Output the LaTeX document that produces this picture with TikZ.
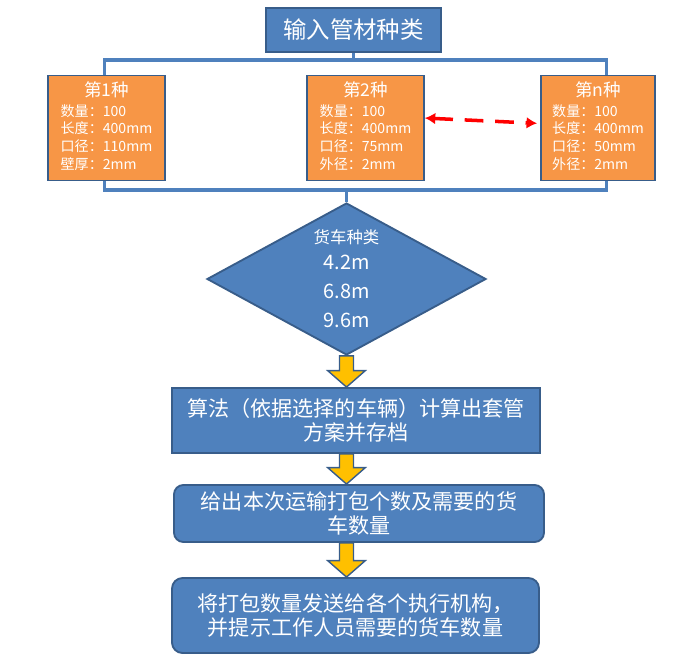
\documentclass[tikz,border=0pt]{standalone}
\usepackage{fontspec}
\setmainfont{Noto Sans CJK SC}
\usepackage{xcolor}
\usepackage{tikz}
\usetikzlibrary{arrows.meta, positioning, shapes, calc}

\definecolor{boxblue}{HTML}{4F81BD}
\definecolor{edgeblue}{HTML}{385D8A}
\definecolor{boxorange}{HTML}{F79646}
\definecolor{arrowyellow}{HTML}{FFC000}

% yellow block arrow between two points on one vertical line
\newcommand{\flowarrow}[2]{%
  \draw[flow] let \p1=(#1), \p2=(#2) in
    (\x1-6pt,\y1) -- (\x1+6pt,\y1) -- (\x1+6pt,\y2+14pt) -- (\x1+16pt,\y2+14pt)
    -- (\x1,\y2) -- (\x1-16pt,\y2+14pt) -- (\x1-6pt,\y2+14pt) -- cycle;}

\begin{document}
\begin{tikzpicture}[
    x=0.03cm, y=-0.03cm,
    procbox/.style={draw=edgeblue, line width=1.6pt, fill=boxblue, text=white, align=center, inner sep=0pt, font=\fontsize{18}{21}\selectfont},
    typebox/.style={draw=edgeblue, line width=1.6pt, fill=boxorange, text=white, inner sep=0pt, minimum width=3.5cm, minimum height=3.15cm, font=\fontsize{12}{15}\selectfont},
    decision/.style={diamond, draw=edgeblue, line width=1.6pt, fill=boxblue, text=white, align=center, aspect=1.84, inner sep=0pt, minimum width=8.37cm, minimum height=4.56cm, font=\fontsize{17}{25}\selectfont},
    bracket/.style={draw=boxblue, line width=2.6pt},
    flow/.style={draw=edgeblue, line width=1.2pt, fill=arrowyellow, line join=miter},
    link/.style={red, line width=3pt, dash pattern=on 16pt off 10pt, {Latex[length=9pt,width=10pt]}-{Latex[length=9pt,width=10pt]}}
]
    \useasboundingbox (0,0) rectangle (693,658);

    % input and the pipe types
    \node[procbox, minimum width=5.25cm, minimum height=1.32cm, font=\fontsize{20}{24}\selectfont] (input) at (353.5,30) {输入管材种类};

    \node[typebox] (t1) at (106.5,128) {\begin{tabular}{@{}l@{}}\multicolumn{1}{@{}c@{}}{\fontsize{15}{17}\selectfont 第1种}\\[2pt] 数量：100\\ 长度：400mm\\ 口径：110mm\\ 壁厚：2mm\end{tabular}};
    \node[typebox] (t2) at (365.5,128) {\begin{tabular}{@{}l@{}}\multicolumn{1}{@{}c@{}}{\fontsize{15}{17}\selectfont 第2种}\\[2pt] 数量：100\\ 长度：400mm\\ 口径：75mm\\ 外径：2mm\end{tabular}};
    \node[typebox, minimum width=3.42cm] (tn) at (598,128) {\begin{tabular}{@{}l@{}}\multicolumn{1}{@{}c@{}}{\fontsize{15}{17}\selectfont 第n种}\\[2pt] 数量：100\\ 长度：400mm\\ 口径：50mm\\ 外径：2mm\end{tabular}};

    \coordinate (topjoin) at (353.5,60);
    \coordinate (botjoin) at (346.5,190);
    \draw[bracket] (input.south) -- (topjoin);
    \draw[bracket] ([xshift=-2pt]t1.north) |- (topjoin) -| ([xshift=7pt]tn.north);
    \draw[bracket] ([xshift=-2pt]t1.south) |- (botjoin) -| ([xshift=7pt]tn.south);

    \draw[link] ([yshift=8.5pt]t2.east) -- ([yshift=4pt,xshift=-2.5pt]tn.west);

    % truck types and the steps after
    \node[decision] (truck) at (346.5,279) {{\fontsize{14}{16}\selectfont 货车种类}\\[-3pt] 4.2m\\ 6.8m\\ 9.6m};
    \draw[bracket] (botjoin) -- (truck.north);

    \node[procbox, minimum width=11.04cm, minimum height=1.95cm] (plan) at (356,420.5) {算法（依据选择的车辆）计算出套管\\方案并存档};
    \node[procbox, rounded corners=8pt, minimum width=11.1cm, minimum height=1.71cm] (count) at (359,513.5) {给出本次运输打包个数及需要的货\\车数量};
    \node[procbox, rounded corners=9pt, minimum width=11.01cm, minimum height=2.25cm] (send) at (355.5,615.5) {将打包数量发送给各个执行机构，\\并提示工作人员需要的货车数量};

    \flowarrow{truck.south}{plan.north -| truck.south}
    \flowarrow{plan.south -| truck.south}{count.north -| truck.south}
    \flowarrow{count.south -| truck.south}{send.north -| truck.south}
\end{tikzpicture}
\end{document}
